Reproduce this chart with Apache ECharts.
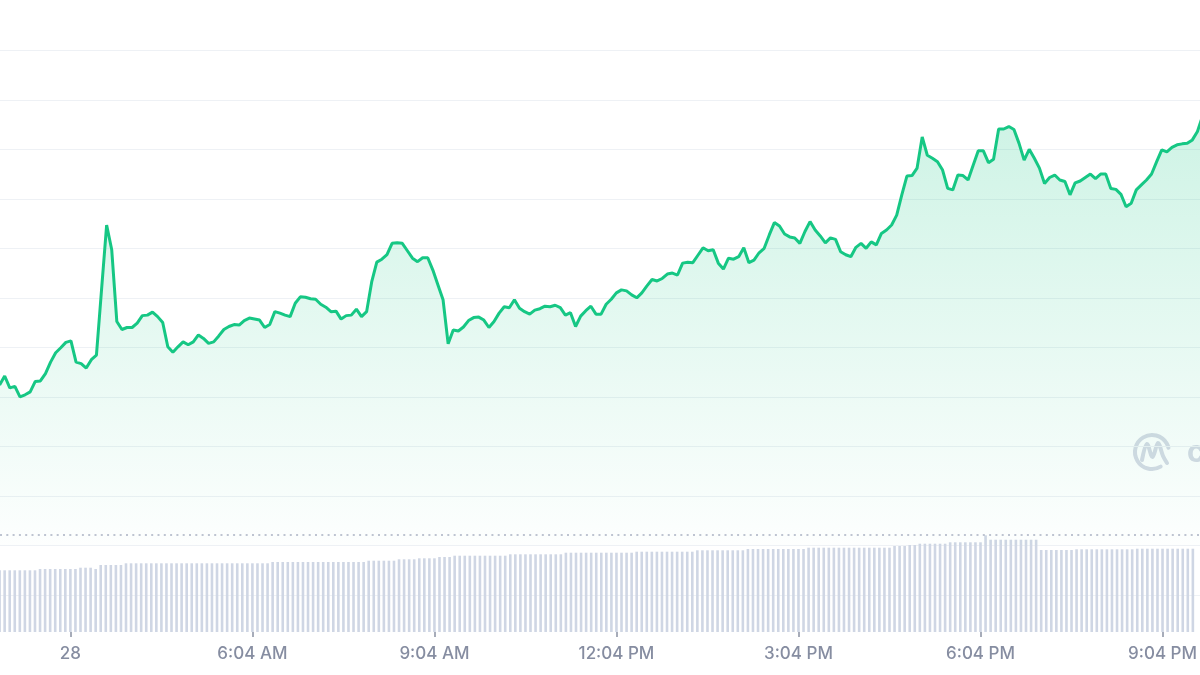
<!DOCTYPE html>
<html>
<head>
<meta charset="utf-8">
<script src="https://cdn.jsdelivr.net/npm/echarts@6/dist/echarts.min.js"></script>
<style>
html,body{margin:0;padding:0;background:#fff;}
#chart{width:1200px;height:675px;}
</style>
</head>
<body>
<div id="chart"></div>
<script>
// ---- data (5-minute steps, minutes relative to the "28" tick) ----
const startMinute = -70;
const stepMinutes = 5;

const price = [
  32.4, 34.2, 31.8, 32.1, 30.0, 30.4, 31.0, 33.1, 33.2, 34.7,
  37.0, 38.9, 39.9, 41.0, 41.3, 37.0, 36.7, 35.8, 37.5, 38.4,
  51.6, 64.7, 59.7, 45.2, 43.6, 44.0, 44.0, 44.9, 46.4, 46.5,
  47.1, 46.2, 45.0, 40.1, 39.0, 40.1, 41.1, 40.5, 41.1, 42.5,
  41.8, 40.8, 41.1, 42.3, 43.6, 44.2, 44.6, 44.5, 45.4, 45.9,
  45.7, 45.5, 44.0, 44.6, 47.2, 46.9, 46.5, 46.2, 48.9, 50.2,
  50.1, 49.8, 49.7, 48.7, 48.1, 47.2, 47.3, 45.7, 46.4, 46.5,
  47.7, 46.2, 47.2, 53.2, 57.2, 57.8, 58.7, 61.0, 61.1, 61.0,
  59.5, 58.0, 57.3, 58.1, 58.1, 55.6, 52.6, 49.6, 40.7, 43.5,
  43.3, 44.1, 45.4, 46.0, 46.1, 45.5, 44.0, 45.2, 46.9, 48.2,
  48.0, 49.6, 47.9, 47.2, 46.7, 47.5, 47.8, 48.3, 48.2, 48.5,
  48.0, 46.5, 47.0, 44.2, 46.3, 47.4, 48.3, 46.7, 46.7, 48.7,
  49.7, 51.0, 51.6, 51.4, 50.6, 50.0, 51.0, 52.4, 53.7, 53.4,
  53.9, 54.8, 55.0, 54.6, 57.0, 57.2, 57.1, 58.6, 60.1, 59.5,
  59.7, 57.0, 55.8, 58.0, 57.8, 58.3, 60.1, 57.1, 57.6, 59.1,
  60.0, 62.7, 65.2, 64.5, 62.9, 62.3, 62.1, 61.0, 63.4, 65.4,
  63.7, 62.5, 61.1, 62.1, 61.8, 59.3, 58.7, 58.3, 60.2, 61.0,
  60.0, 61.3, 60.7, 63.0, 63.7, 64.7, 66.7, 70.8, 74.6, 74.7,
  76.2, 82.5, 78.8, 78.2, 77.5, 75.8, 72.1, 71.8, 74.8, 74.7,
  73.8, 76.8, 79.7, 79.7, 77.3, 78.0, 84.1, 84.1, 84.6, 84.0,
  81.2, 77.8, 80.0, 78.2, 76.2, 73.1, 74.3, 74.8, 73.8, 73.5,
  70.8, 73.2, 73.6, 74.3, 75.0, 74.1, 75.0, 75.0, 72.1, 71.9,
  70.9, 68.4, 69.1, 71.8, 72.8, 73.8, 75.0, 77.5, 79.9, 79.5,
  80.4, 80.9, 81.1, 81.2, 81.9, 83.6, 86.7
];

const volume = [
  61.7, 61.7, 61.7, 61.7, 61.7, 61.7, 61.7, 61.7,
  63.0, 63.0, 63.0, 63.0, 63.0, 63.0, 63.0, 63.0,
  64.3, 64.3, 64.3, 63.0,
  67.0, 67.0, 67.0, 67.0, 67.0,
  68.7, 68.7, 68.7, 68.7, 68.7, 68.7, 68.7, 68.7, 68.7, 68.7,
  68.7, 68.7, 68.7, 68.7, 68.7, 68.7, 68.7, 68.7, 68.7, 68.7,
  68.7, 68.7, 68.7, 68.7, 68.7, 68.7, 68.7, 68.7, 68.7,
  70.0, 70.0, 70.0, 70.0, 70.0, 70.0, 70.0, 70.0, 70.0, 70.0,
  70.0, 70.0, 70.0, 70.0, 70.0, 70.0, 70.0, 70.0, 70.0,
  71.3, 71.3, 71.3, 71.3, 71.3, 71.3,
  72.7, 72.7, 72.7, 72.7,
  73.7, 73.7, 73.7, 73.7,
  75.0, 75.0, 75.0,
  76.3, 76.3, 76.3, 76.3, 76.3, 76.3, 76.3, 76.3, 76.3, 76.3, 76.3,
  77.7, 77.7, 77.7, 77.7, 77.7, 77.7, 77.7, 77.7, 77.7, 77.7, 77.7,
  79.3, 79.3, 79.3, 79.3, 79.3, 79.3, 79.3, 79.3, 79.3, 79.3, 79.3, 79.3, 79.3, 79.3,
  80.3, 80.3, 80.3, 80.3, 80.3, 80.3, 80.3, 80.3, 80.3, 80.3, 80.3, 80.3,
  81.7, 81.7, 81.7, 81.7, 81.7, 81.7, 81.7, 81.7, 81.7, 81.7,
  83.0, 83.0, 83.0, 83.0, 83.0, 83.0, 83.0, 83.0, 83.0, 83.0, 83.0, 83.0,
  84.3, 84.3, 84.3, 84.3, 84.3, 84.3, 84.3, 84.3, 84.3, 84.3,
  84.3, 84.3, 84.3, 84.3, 84.3, 84.3, 84.3,
  86.0, 86.0, 86.0,
  87.0, 87.0,
  88.3, 88.3, 88.3, 88.3, 88.3, 88.3,
  89.7, 89.7, 89.7, 89.7, 89.7, 89.7, 89.7,
  96.7,
  92.3, 92.3, 92.3, 92.3, 92.3, 92.3, 92.3, 92.3, 92.3, 92.3,
  82.0, 82.0, 82.0, 82.0, 82.0, 82.0, 82.0,
  82.7, 82.7, 82.7, 82.7, 82.7, 82.7, 82.7, 82.7, 82.7, 82.7, 82.7, 82.7,
  83.3, 83.3, 83.3, 83.3, 83.3, 83.3, 83.3, 83.3, 83.3, 83.3, 83.3, 83.3
];

const tickMinutes = [0, 180, 360, 540, 720, 900, 1080];
const tickLabels = ['28', '6:04 AM', '9:04 AM', '12:04 PM', '3:04 PM', '6:04 PM', '9:04 PM'];
const referenceLevel = 2.2;

// ---- build series data ----
const times = price.map((_, i) => startMinute + i * stepMinutes);
const priceData = price.map((v, i) => [times[i], v]);
const volumeData = volume.map((v, i) => [times[i], v]);

const X_MIN = -69.6, X_MAX = 1107.5;

const chart = echarts.init(document.getElementById('chart'), null, {renderer: 'canvas'});

const wm = '#d6dae5';
chart.setOption({
  animation: false,
  backgroundColor: '#ffffff',
  grid: [
    {left: 0, right: 0, top: 0.8, bottom: 80.2},
    {left: 0, right: 0, top: 532, bottom: 43}
  ],
  xAxis: [
    {type: 'value', gridIndex: 0, min: X_MIN, max: X_MAX, show: false},
    {
      type: 'value', gridIndex: 1, min: X_MIN, max: X_MAX,
      axisLine: {show: false},
      splitLine: {show: false},
      axisTick: {show: true, customValues: tickMinutes, length: 5, lineStyle: {color: '#8a91a3', width: 1.5}},
      axisLabel: {
        customValues: tickMinutes,
        margin: 13,
        color: '#868da1',
        fontSize: 17,
        fontWeight: 500,
        fontFamily: 'Inter, "Noto Sans", sans-serif',
        formatter: function (v) {
          const idx = tickMinutes.indexOf(v);
          return idx >= 0 ? tickLabels[idx] : '';
        }
      }
    }
  ],
  yAxis: [
    {
      type: 'value', gridIndex: 0, min: -10, max: 110, interval: 10,
      axisLine: {show: false}, axisTick: {show: false}, axisLabel: {show: false},
      splitLine: {show: true, showMaxLine: false, lineStyle: {color: '#eef1f5', width: 1.2}}
    },
    {
      type: 'value', gridIndex: 1, min: 0, max: 100, show: false,
      splitLine: {show: false}
    }
  ],
  graphic: [
    {
      type: 'arc', z: 0, silent: true,
      shape: {cx: 1152, cy: 452, r: 17, startAngle: Math.PI * 0.33, endAngle: Math.PI * 1.92},
      style: {stroke: wm, lineWidth: 4, fill: null, lineCap: 'round'}
    },
    {
      type: 'polyline', z: 0, silent: true,
      shape: {points: [[1142, 460], [1147, 444], [1152.5, 457], [1158, 443], [1163, 456], [1167, 463]], smooth: 0.35},
      style: {stroke: wm, lineWidth: 4, fill: null, lineCap: 'round', lineJoin: 'round'}
    },
    {
      type: 'text', z: 0, silent: true, x: 1187, y: 453,
      style: {text: 'coinmarketcap', fill: wm, fontSize: 30, fontWeight: 'bold', fontFamily: 'Inter, sans-serif', verticalAlign: 'middle', align: 'left'}
    }
  ],
  series: [
    {
      type: 'bar',
      xAxisIndex: 1, yAxisIndex: 1,
      data: volumeData,
      barWidth: 2.6,
      itemStyle: {color: '#cfd6e4'},
      silent: true
    },
    {
      type: 'line',
      xAxisIndex: 0, yAxisIndex: 0,
      data: priceData,
      showSymbol: false,
      smooth: false,
      z: 3,
      lineStyle: {color: '#16c784', width: 3},
      areaStyle: {
        color: new echarts.graphic.LinearGradient(0, 0, 0, 1, [
          {offset: 0, color: 'rgba(22,199,132,0.30)'},
          {offset: 1, color: 'rgba(22,199,132,0.01)'}
        ])
      },
      markLine: {
        silent: true,
        symbol: 'none',
        label: {show: false},
        lineStyle: {color: '#a9b1c2', type: [2, 4.3], width: 1.5},
        data: [{yAxis: referenceLevel}]
      }
    }
  ]
});
</script>
</body>
</html>
